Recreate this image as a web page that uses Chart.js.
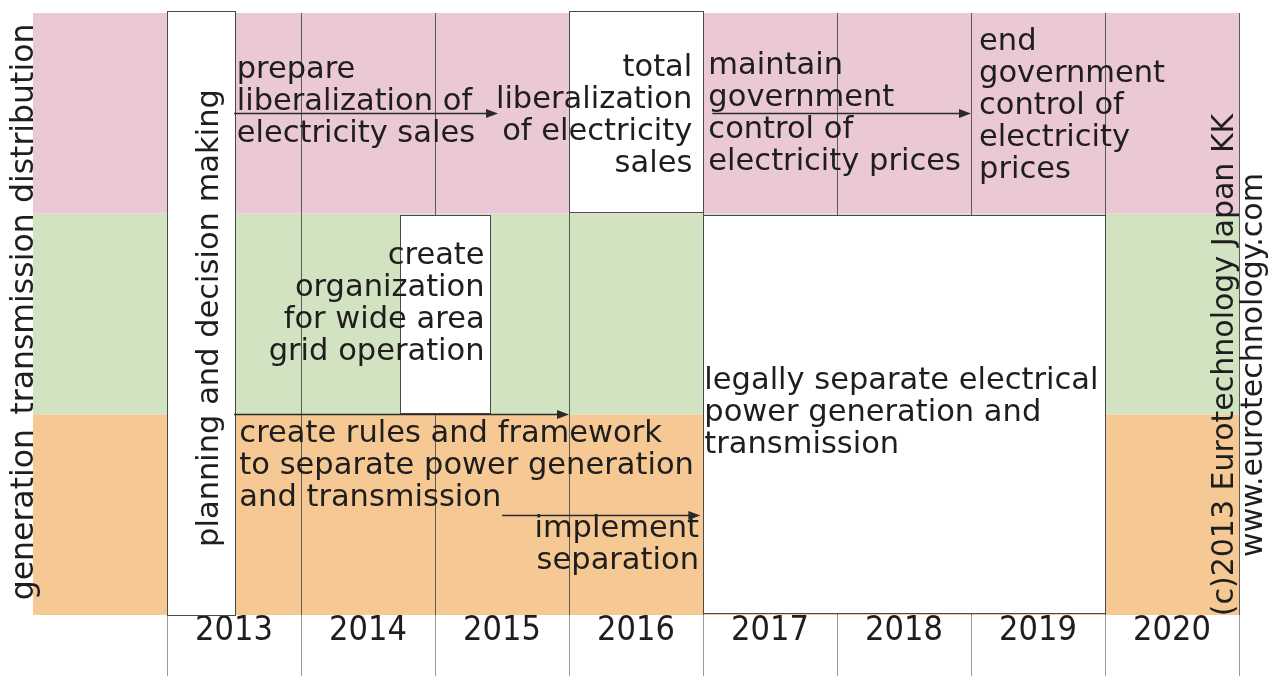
<!DOCTYPE html>
<html>
<head>
<meta charset="utf-8">
<script src="https://cdn.jsdelivr.net/npm/chart.js@4.4.1/dist/chart.umd.min.js"></script>
<style>
  html, body { margin: 0; padding: 0; background: #fff; }
  #wrap { width: 1269px; height: 676px; }
</style>
</head>
<body>
<div id="wrap"><canvas id="roadmap"></canvas></div>
<script>
// timeline runs over whole years, one column each
const firstYear = 2012;
const lastYear = 2021;
const yearLabels = ['2013', '2014', '2015', '2016', '2017', '2018', '2019', '2020'];

// rows, bottom to top (y = 0..3)
const bandNames = ['generation', 'transmission', 'distribution'];
const bandColors = ['#f6c994', '#d1e3c0', '#ebc8d6'];

// white boxes: start/end year, bottom/top row level
const boxStart = [2013, 2016, 2014.74, 2017];
const boxEnd = [2013.51, 2017, 2015.41, 2020];
const boxBottom = [0, 2.01, 1.005, 0.01];
const boxTop = [3.01, 3.01, 1.995, 1.995];

// arrows: from year, to year, row level
const arrowFrom = [2013.5, 2013.5, 2015.5, 2017.07];
const arrowTo = [2015.47, 2016, 2016.98, 2019];
const arrowLevel = [2.5, 1.0, 0.5, 2.5];

// text notes
const noteLines = [
  ['prepare', 'liberalization of', 'electricity sales'],
  ['total', 'liberalization', 'of electricity', 'sales'],
  ['maintain', 'government', 'control of', 'electricity prices'],
  ['end', 'government', 'control of', 'electricity', 'prices'],
  ['create', 'organization', 'for wide area', 'grid operation'],
  ['create rules and framework', 'to separate power generation', 'and transmission'],
  ['implement', 'separation'],
  ['legally separate electrical', 'power generation and', 'transmission'],
  ['planning and decision making']
];
const noteYear = [2013.52, 2016.92, 2017.04, 2019.06, 2015.37, 2013.54, 2016.97, 2017.01, 2013.38];
const noteLevel = [2.676, 2.686, 2.696, 2.816, 1.749, 0.862, 0.389, 1.126, 1.48];
const noteAlign = ['left', 'right', 'left', 'left', 'right', 'left', 'right', 'left', 'vertical'];

const credits = ['(c)2013 Eurotechnology Japan KK', 'www.eurotechnology.com'];

const FONT = '30.5px "DejaVu Sans"';
const INK = '#1e1e1e';

const roadmapPlugin = {
  id: 'roadmap',
  beforeDraw(chart) {
    const ctx = chart.ctx;
    const xs = chart.scales.x, ys = chart.scales.y;
    const left = xs.getPixelForValue(firstYear), right = xs.getPixelForValue(lastYear);
    ctx.save();
    bandNames.forEach((name, i) => {
      const top = ys.getPixelForValue(i + 1), bottom = ys.getPixelForValue(i);
      ctx.fillStyle = bandColors[i];
      ctx.fillRect(left, top, right - left, bottom - top);
      // row label, rotated, sitting just left of the band
      ctx.save();
      ctx.translate(left, ys.getPixelForValue(i + 0.5));
      ctx.rotate(-Math.PI / 2);
      ctx.font = '31.5px "DejaVu Sans"';
      ctx.fillStyle = INK;
      ctx.textAlign = 'center';
      ctx.textBaseline = 'alphabetic';
      ctx.fillText(name, 0, 0);
      ctx.restore();
    });
    ctx.restore();
  },
  afterDatasetsDraw(chart) {
    const ctx = chart.ctx;
    const xs = chart.scales.x, ys = chart.scales.y;
    ctx.save();

    // boxes
    boxStart.forEach((s, i) => {
      const x1 = Math.round(xs.getPixelForValue(s)) + 0.5;
      const x2 = Math.round(xs.getPixelForValue(boxEnd[i])) + 0.5;
      const y1 = Math.round(ys.getPixelForValue(boxTop[i])) + 0.5;
      const y2 = Math.round(ys.getPixelForValue(boxBottom[i])) + 0.5;
      ctx.fillStyle = '#ffffff';
      ctx.fillRect(x1, y1, x2 - x1, y2 - y1);
      ctx.strokeStyle = '#4a4a4a';
      ctx.lineWidth = 1;
      ctx.strokeRect(x1, y1, x2 - x1, y2 - y1);
    });

    // text
    ctx.font = FONT;
    ctx.fillStyle = INK;
    ctx.textBaseline = 'alphabetic';
    noteLines.forEach((lines, i) => {
      const px = xs.getPixelForValue(noteYear[i]);
      const py = ys.getPixelForValue(noteLevel[i]);
      if (noteAlign[i] === 'vertical') {
        ctx.save();
        ctx.translate(px, py);
        ctx.rotate(-Math.PI / 2);
        ctx.textAlign = 'center';
        ctx.fillText(lines[0], 0, 0);
        ctx.restore();
        return;
      }
      ctx.textAlign = noteAlign[i];
      lines.forEach((t, k) => ctx.fillText(t, px, py + k * 32));
    });

    // arrows
    ctx.strokeStyle = '#2a2a2a';
    ctx.fillStyle = '#2a2a2a';
    ctx.lineWidth = 1.5;
    arrowFrom.forEach((f, i) => {
      const x1 = xs.getPixelForValue(f);
      const x2 = xs.getPixelForValue(arrowTo[i]);
      const y = Math.round(ys.getPixelForValue(arrowLevel[i])) + 0.5;
      ctx.beginPath();
      ctx.moveTo(x1, y);
      ctx.lineTo(x2 - 8, y);
      ctx.stroke();
      ctx.beginPath();
      ctx.moveTo(x2, y);
      ctx.lineTo(x2 - 12, y - 4.5);
      ctx.lineTo(x2 - 12, y + 4.5);
      ctx.closePath();
      ctx.fill();
    });
    ctx.restore();
  },
  afterDraw(chart) {
    const ctx = chart.ctx;
    const mid = (chart.chartArea.top + chart.chartArea.bottom) / 2 + 51;
    ctx.save();
    ctx.font = '30px "DejaVu Sans"';
    ctx.fillStyle = INK;
    ctx.textAlign = 'center';
    ctx.textBaseline = 'alphabetic';
    [1233, 1262].forEach((bx, i) => {
      ctx.save();
      ctx.translate(bx, mid);
      ctx.rotate(-Math.PI / 2);
      ctx.fillText(credits[i], 0, 0);
      ctx.restore();
    });
    ctx.restore();
  }
};

const hideEdge = (c, col) => (c.tick && c.tick.value === firstYear ? 'rgba(0,0,0,0)' : col);

new Chart(document.getElementById('roadmap'), {
  type: 'scatter',
  data: { datasets: [] },
  options: {
    responsive: true,
    maintainAspectRatio: false,
    animation: false,
    layout: { padding: { left: 33, right: 30, top: 13, bottom: 0 } },
    plugins: { legend: { display: false }, tooltip: { enabled: false } },
    scales: {
      x: {
        type: 'linear',
        min: firstYear,
        max: lastYear,
        afterFit(scale) { scale.height = 61; },
        border: { display: false },
        grid: {
          color: c => hideEdge(c, '#5a5a5a'),
          tickColor: c => hideEdge(c, '#9a9a9a'),
          tickLength: 61,
          lineWidth: 1
        },
        ticks: {
          stepSize: 1,
          autoSkip: false,
          maxRotation: 0,
          labelOffset: 67,
          padding: -62,
          color: INK,
          font: { family: '"Liberation Sans Narrow", "DejaVu Sans Condensed", sans-serif', size: 34, lineHeight: 1 },
          callback: v => yearLabels[v - 2013] || ''
        }
      },
      y: { type: 'linear', min: 0, max: 3, display: false }
    }
  },
  plugins: [roadmapPlugin]
});
</script>
</body>
</html>
